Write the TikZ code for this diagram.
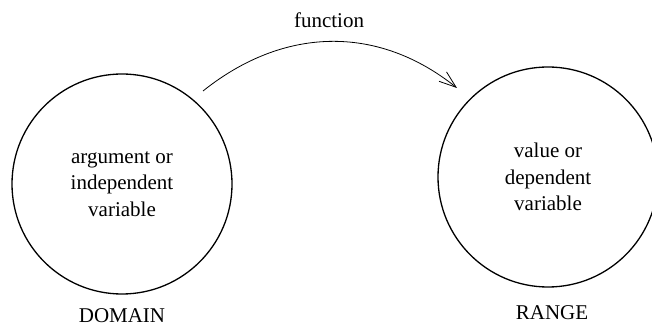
\documentclass[tikz,border=0pt]{standalone}
\usepackage{fontspec}
\setmainfont{Liberation Serif}
\usetikzlibrary{arrows.meta, positioning}

\begin{document}
\begin{tikzpicture}[x=1pt, y=1pt,
    set/.style={circle, draw, line width=1.3pt, minimum size=220pt, inner sep=0pt,
                align=center, font=\fontsize{21}{26.5}\selectfont},
    caption/.style={font=\fontsize{21}{26}\selectfont}]
    \useasboundingbox (0,0) rectangle (652,326);

    % Domain
    \node[set] (domain) at (122, 142) {argument or\\independent\\variable};
    \node[caption] (domlabel) at (122, 10) {DOMAIN};

    % Range
    \node[set] (range) at (548, 149) {value or\\dependent\\variable};
    \node[caption] (rnglabel) at (552, 13) {RANGE};

    % Function arrow
    \coordinate (fstart) at (203, 235);
    \coordinate (fend) at (457, 238);
    \node[caption] (flabel) at (329, 306) {function};
    \draw[-{Straight Barb[length=17pt, width=12pt]}, line width=0.8pt]
        (fstart) .. controls (283, 299) and (377, 302) .. (fend);
\end{tikzpicture}
\end{document}
